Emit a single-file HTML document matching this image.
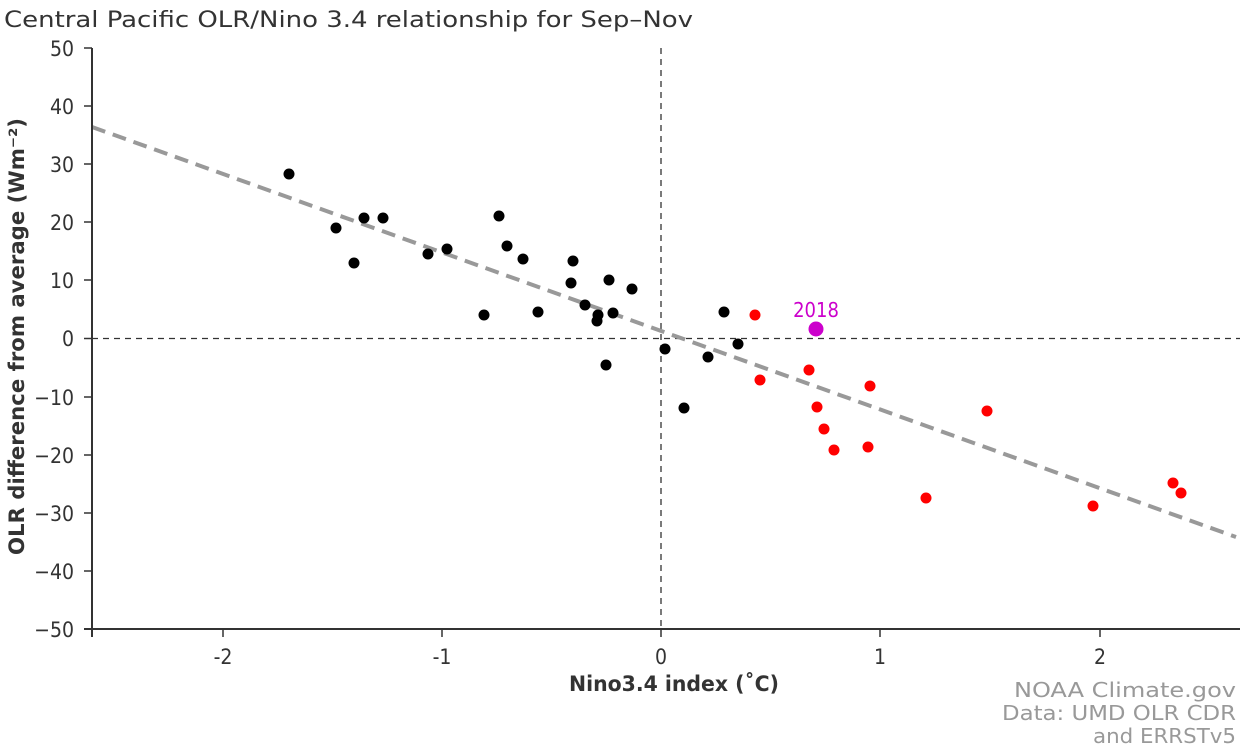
<!DOCTYPE html>
<html><head><meta charset="utf-8"><style>
html,body{margin:0;padding:0;background:#fff;}
svg{display:block;font-family:"DejaVu Sans Condensed","DejaVu Sans","Liberation Sans",sans-serif;}
</style></head><body>
<svg width="1240" height="748" viewBox="0 0 1240 748">
<text x="4" y="27" font-size="22" fill="#333" textLength="689" lengthAdjust="spacingAndGlyphs">Central Pacific OLR/Nino 3.4 relationship for Sep–Nov</text>
<g stroke="#333" stroke-width="1.3" stroke-dasharray="6,5">
<line x1="661" y1="48" x2="661" y2="629"/>
<line x1="92" y1="338.5" x2="1240" y2="338.5"/>
</g>
<line x1="92" y1="127" x2="1236" y2="537" stroke="#999" stroke-width="4" stroke-dasharray="14,8"/>
<g stroke="#333" stroke-width="2">
<line x1="92" y1="48" x2="92" y2="637"/>
<line x1="84" y1="629" x2="1240" y2="629"/>
</g>
<g stroke="#333" stroke-width="1.5">
<line x1="84" y1="48" x2="92" y2="48"/><line x1="84" y1="106" x2="92" y2="106"/><line x1="84" y1="164" x2="92" y2="164"/><line x1="84" y1="222" x2="92" y2="222"/><line x1="84" y1="280" x2="92" y2="280"/><line x1="84" y1="338.5" x2="92" y2="338.5"/><line x1="84" y1="397" x2="92" y2="397"/><line x1="84" y1="455" x2="92" y2="455"/><line x1="84" y1="513" x2="92" y2="513"/><line x1="84" y1="571" x2="92" y2="571"/>
<line x1="223" y1="629" x2="223" y2="637"/><line x1="442" y1="629" x2="442" y2="637"/><line x1="661" y1="629" x2="661" y2="637"/><line x1="880" y1="629" x2="880" y2="637"/><line x1="1100" y1="629" x2="1100" y2="637"/>
</g>
<g font-size="21" fill="#333" text-anchor="end">
<text x="74" y="56">50</text><text x="74" y="114">40</text><text x="74" y="172">30</text><text x="74" y="230">20</text><text x="74" y="288">10</text><text x="74" y="346">0</text><text x="74" y="405">−10</text><text x="74" y="463">−20</text><text x="74" y="521">−30</text><text x="74" y="579">−40</text><text x="74" y="637">−50</text>
</g>
<g font-size="21" fill="#333" text-anchor="middle">
<text x="223" y="664">-2</text><text x="442" y="664">-1</text><text x="661" y="664">0</text><text x="880" y="664">1</text><text x="1100" y="664">2</text>
</g>
<text x="569" y="691" font-size="21" font-weight="bold" fill="#333" textLength="210" lengthAdjust="spacingAndGlyphs">Nino3.4 index (˚C)</text>
<text transform="translate(24,555) rotate(-90)" font-size="21" font-weight="bold" fill="#333" textLength="437" lengthAdjust="spacingAndGlyphs">OLR difference from average (Wm⁻²)</text>
<g font-size="20" fill="#999" text-anchor="end">
<text x="1236" y="697" textLength="222" lengthAdjust="spacingAndGlyphs">NOAA Climate.gov</text><text x="1236" y="720" textLength="234" lengthAdjust="spacingAndGlyphs">Data: UMD OLR CDR</text><text x="1236" y="743" textLength="143" lengthAdjust="spacingAndGlyphs">and ERRSTv5</text>
</g>
<g fill="#000">
<circle cx="289" cy="174" r="5.5"/><circle cx="336" cy="228" r="5.5"/><circle cx="354" cy="263" r="5.5"/><circle cx="364" cy="218" r="5.5"/><circle cx="383" cy="218" r="5.5"/><circle cx="428" cy="254" r="5.5"/><circle cx="447" cy="249" r="5.5"/><circle cx="484" cy="315" r="5.5"/><circle cx="499" cy="216" r="5.5"/><circle cx="507" cy="246" r="5.5"/><circle cx="523" cy="259" r="5.5"/><circle cx="538" cy="312" r="5.5"/><circle cx="571" cy="283" r="5.5"/><circle cx="573" cy="261" r="5.5"/><circle cx="585" cy="305" r="5.5"/><circle cx="598" cy="315" r="5.5"/><circle cx="597" cy="321" r="5.5"/><circle cx="609" cy="280" r="5.5"/><circle cx="613" cy="313" r="5.5"/><circle cx="606" cy="365" r="5.5"/><circle cx="632" cy="289" r="5.5"/><circle cx="665" cy="349" r="5.5"/><circle cx="684" cy="408" r="5.5"/><circle cx="708" cy="357" r="5.5"/><circle cx="724" cy="312" r="5.5"/><circle cx="738" cy="344" r="5.5"/>
</g>
<g fill="#f00">
<circle cx="755" cy="315" r="5.5"/><circle cx="760" cy="380" r="5.5"/><circle cx="809" cy="370" r="5.5"/><circle cx="817" cy="407" r="5.5"/><circle cx="824" cy="429" r="5.5"/><circle cx="834" cy="450" r="5.5"/><circle cx="868" cy="447" r="5.5"/><circle cx="870" cy="386" r="5.5"/><circle cx="926" cy="498" r="5.5"/><circle cx="987" cy="411" r="5.5"/><circle cx="1093" cy="506" r="5.5"/><circle cx="1173" cy="483" r="5.5"/><circle cx="1181" cy="493" r="5.5"/>
</g>
<circle cx="816" cy="329" r="7.5" fill="#c0c"/>
<text x="816" y="317" font-size="20" fill="#c0c" text-anchor="middle">2018</text>
</svg>
</body></html>
